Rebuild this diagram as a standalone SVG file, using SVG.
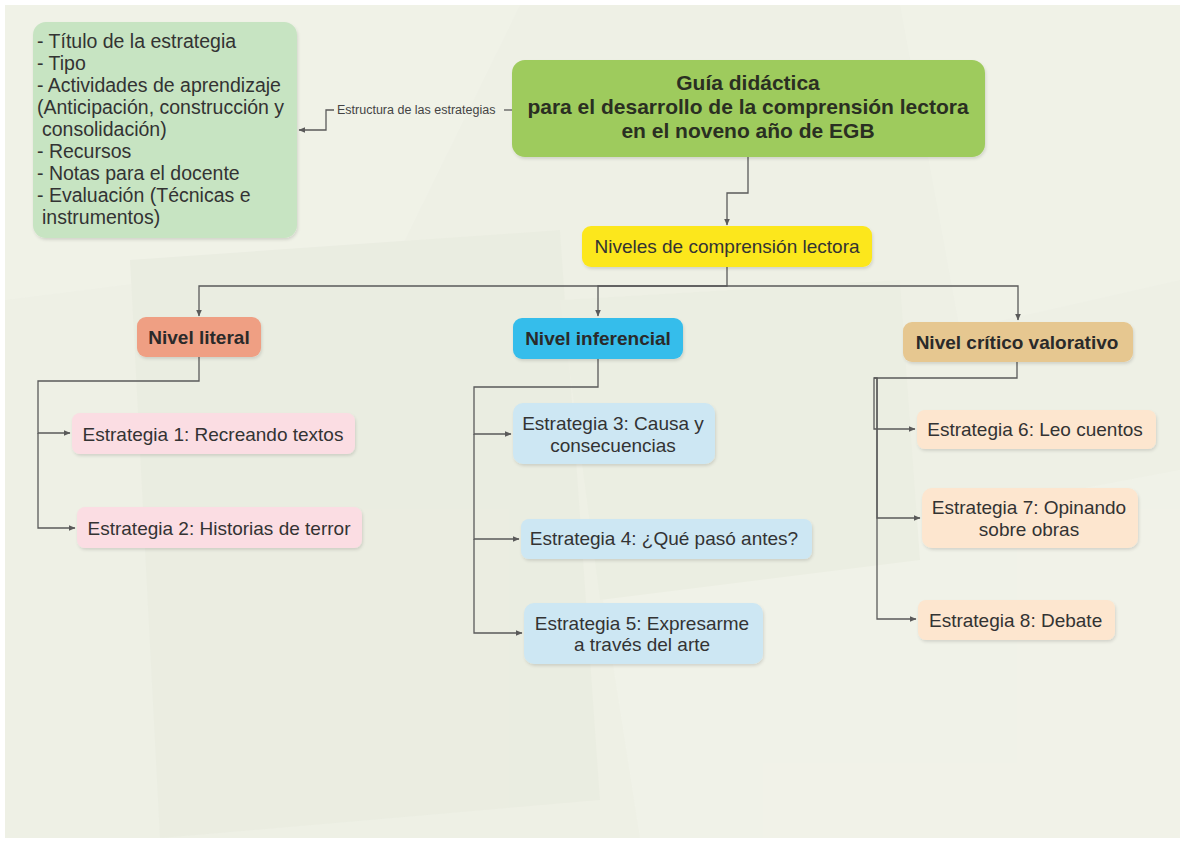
<svg xmlns="http://www.w3.org/2000/svg" width="1184" height="841" viewBox="0 0 1184 841">
<defs>
<style>
text{font-family:"Liberation Sans",Arial,sans-serif;fill:#333}
.r{font-size:19px}
.s{font-size:19.5px}
.b{font-size:19px;font-weight:bold;fill:#2a2a2a}
.t{font-size:21px;font-weight:bold;fill:#2a2f22}
.lbl{font-size:12.5px;fill:#444}
.c{fill:none;stroke:#5a5a5a;stroke-width:1.3}
.m{text-anchor:middle}
</style>
<marker id="ah" markerWidth="8" markerHeight="8" refX="6" refY="4" orient="auto" markerUnits="userSpaceOnUse">
<path d="M0,1.2 L6.5,4 L0,6.8 Z" fill="#5a5a5a"/>
</marker>
<filter id="sh" x="-10%" y="-10%" width="120%" height="130%">
<feDropShadow dx="1" dy="2" stdDeviation="1.5" flood-color="#000" flood-opacity="0.12"/>
</filter>
</defs>
<rect x="0" y="0" width="1184" height="841" fill="#ffffff"/>
<rect x="5" y="5" width="1175" height="833" fill="#eef0e5"/>
<g id="bg" opacity="0.4">
<polygon points="5,5 520,5 400,250 5,300" fill="#f3f5ec"/>
<polygon points="130,260 560,230 600,800 160,838" fill="#e6e9dc"/>
<polygon points="600,580 1180,470 1180,838 640,838" fill="#f4f6ee"/>
<polygon points="900,5 1180,5 1180,280 960,330" fill="#f3f5ec"/>
<polygon points="560,300 900,280 920,560 600,600" fill="#e9ecdf"/>
</g>
<g id="connectors">
<path class="c" d="M512,110 H504"/>
<path class="c" d="M334,110 H326 V130 H299" marker-end="url(#ah)"/>
<path class="c" d="M748,157 V193 H727 V225" marker-end="url(#ah)"/>
<path class="c" d="M727,267 V286 H199 V316" marker-end="url(#ah)"/>
<path class="c" d="M727,286 H598 V316" marker-end="url(#ah)"/>
<path class="c" d="M727,286 H1018 V320" marker-end="url(#ah)"/>
<path class="c" d="M199,357 V381 H38 V433 H70" marker-end="url(#ah)"/>
<path class="c" d="M38,433 V528 H75" marker-end="url(#ah)"/>
<path class="c" d="M598,359 V387 H474 V434 H511" marker-end="url(#ah)"/>
<path class="c" d="M474,434 V539 H519" marker-end="url(#ah)"/>
<path class="c" d="M474,539 V633 H522" marker-end="url(#ah)"/>
<path class="c" d="M1017,362 V378 H874 V429 H915" marker-end="url(#ah)"/>
<path class="c" d="M874,378 H877 V518 H920" marker-end="url(#ah)"/>
<path class="c" d="M877,378 V619 H916" marker-end="url(#ah)"/>
</g>
<g id="label-estructura">
<text class="lbl" x="337" y="114">Estructura de las estrategias</text>
</g>
<g id="n-estructura">
<rect x="33" y="22" width="264" height="216" rx="13" fill="#c7e4c2" filter="url(#sh)"/>
<text class="s" x="37" y="48">- Título de la estrategia</text>
<text class="s" x="37" y="70">- Tipo</text>
<text class="s" x="37" y="92">- Actividades de aprendizaje</text>
<text class="s" x="37" y="114">(Anticipación, construcción y</text>
<text class="s" x="42" y="136">consolidación)</text>
<text class="s" x="37" y="158">- Recursos</text>
<text class="s" x="37" y="180">- Notas para el docente</text>
<text class="s" x="37" y="202">- Evaluación (Técnicas e</text>
<text class="s" x="42" y="224">instrumentos)</text>
</g>
<g id="n-guia">
<rect x="512" y="60" width="473" height="97" rx="13" fill="#9ecb5d" filter="url(#sh)"/>
<text class="t m" x="748" y="90">Guía didáctica</text>
<text class="t m" x="748" y="114">para el desarrollo de la comprensión lectora</text>
<text class="t m" x="748" y="138">en el noveno año de EGB</text>
</g>
<g id="n-niveles">
<rect x="582" y="226" width="290" height="41" rx="9" fill="#fce71c" filter="url(#sh)"/>
<text class="r m" x="727" y="253">Niveles de comprensión lectora</text>
</g>
<g id="n-literal">
<rect x="137" y="317" width="124" height="40" rx="9" fill="#ef9f83" filter="url(#sh)"/>
<text class="b m" x="199" y="344">Nivel literal</text>
</g>
<g id="n-inferencial">
<rect x="513" y="318" width="170" height="41" rx="9" fill="#36bdeb" filter="url(#sh)"/>
<text class="b m" x="598" y="345">Nivel inferencial</text>
</g>
<g id="n-critico">
<rect x="903" y="322" width="230" height="40" rx="9" fill="#e6c790" filter="url(#sh)"/>
<text class="b m" x="1017" y="349">Nivel crítico valorativo</text>
</g>
<g id="n-e1">
<rect x="72" y="413" width="283" height="41" rx="8" fill="#fbdde3" filter="url(#sh)"/>
<text class="r m" x="213" y="441">Estrategia 1: Recreando textos</text>
</g>
<g id="n-e2">
<rect x="77" y="507" width="285" height="41" rx="8" fill="#fbdde3" filter="url(#sh)"/>
<text class="r m" x="219" y="535">Estrategia 2: Historias de terror</text>
</g>
<g id="n-e3">
<rect x="513" y="403" width="202" height="61" rx="10" fill="#cde7f3" filter="url(#sh)"/>
<text class="r m" x="613" y="430">Estrategia 3: Causa y</text>
<text class="r m" x="613" y="452">consecuencias</text>
</g>
<g id="n-e4">
<rect x="521" y="519" width="291" height="40" rx="8" fill="#cde7f3" filter="url(#sh)"/>
<text class="r m" x="664" y="545">Estrategia 4: ¿Qué pasó antes?</text>
</g>
<g id="n-e5">
<rect x="524" y="603" width="239" height="61" rx="10" fill="#cde7f3" filter="url(#sh)"/>
<text class="r m" x="642" y="630">Estrategia 5: Expresarme</text>
<text class="r m" x="642" y="651">a través del arte</text>
</g>
<g id="n-e6">
<rect x="917" y="410" width="239" height="39" rx="8" fill="#fde6cf" filter="url(#sh)"/>
<text class="r m" x="1035" y="436">Estrategia 6: Leo cuentos</text>
</g>
<g id="n-e7">
<rect x="922" y="488" width="216" height="60" rx="10" fill="#fde6cf" filter="url(#sh)"/>
<text class="r m" x="1029" y="514">Estrategia 7: Opinando</text>
<text class="r m" x="1029" y="536">sobre obras</text>
</g>
<g id="n-e8">
<rect x="918" y="600" width="197" height="40" rx="8" fill="#fde6cf" filter="url(#sh)"/>
<text class="r" x="929" y="627">Estrategia 8: Debate</text>
</g>
</svg>
